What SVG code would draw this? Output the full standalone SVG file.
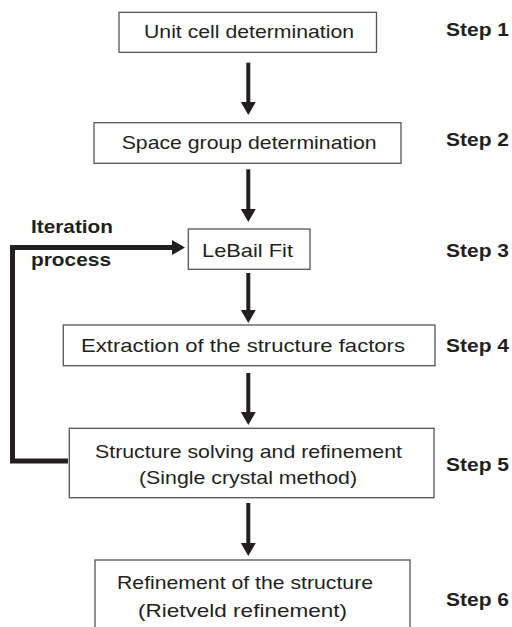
<svg xmlns="http://www.w3.org/2000/svg" width="512" height="627" viewBox="0 0 512 627">
<style>
.box{fill:#fff;stroke:#555;stroke-width:1.3}
.t{font-family:"Liberation Sans",Arial,sans-serif;font-size:19px;fill:#231f20}
.s{font-family:"Liberation Sans",Arial,sans-serif;font-size:18.5px;font-weight:bold;fill:#231f20}
.c{fill:none;stroke:#231f20;stroke-width:4}
.fb{fill:none;stroke:#231f20;stroke-width:5}
</style>
<defs>
<marker id="ah" markerUnits="userSpaceOnUse" markerWidth="14" markerHeight="16" refX="0" refY="7.5" orient="auto" overflow="visible">
<path d="M0,0 L13,7.5 L0,15 Z" fill="#231f20"/>
</marker>
</defs>
<rect width="512" height="627" fill="#fff"/>
<g id="connectors">
<line class="c" x1="248.3" y1="62.7" x2="248.3" y2="102" marker-end="url(#ah)"/>
<line class="c" x1="248.3" y1="169.3" x2="248.3" y2="209" marker-end="url(#ah)"/>
<line class="c" x1="248.3" y1="273" x2="248.3" y2="310" marker-end="url(#ah)"/>
<line class="c" x1="248.3" y1="373" x2="248.3" y2="412" marker-end="url(#ah)"/>
<line class="c" x1="248.3" y1="503" x2="248.3" y2="543" marker-end="url(#ah)"/>
<polyline class="fb" points="68,461 12.5,461 12.5,247.5 172,247.5" marker-end="url(#ah)"/>
</g>
<g id="step1">
<rect class="box" x="119" y="12.3" width="257.5" height="40"/>
<text class="t" x="144" y="37.5" textLength="210" lengthAdjust="spacingAndGlyphs">Unit cell determination</text>
</g>
<g id="step2">
<rect class="box" x="94" y="122.7" width="307" height="40.6"/>
<text class="t" x="121.7" y="149" textLength="255" lengthAdjust="spacingAndGlyphs">Space group determination</text>
</g>
<g id="step3">
<rect class="box" x="188.3" y="229" width="121.7" height="40.3"/>
<text class="t" x="202" y="256.5" textLength="91" lengthAdjust="spacingAndGlyphs">LeBail Fit</text>
</g>
<g id="step4">
<rect class="box" x="63.3" y="325" width="371.7" height="40.7"/>
<text class="t" x="81" y="351.5" textLength="324" lengthAdjust="spacingAndGlyphs">Extraction of the structure factors</text>
</g>
<g id="step5">
<rect class="box" x="69.3" y="428.3" width="364.7" height="69.4"/>
<text class="t" x="95" y="457.5" textLength="307" lengthAdjust="spacingAndGlyphs">Structure solving and refinement</text>
<text class="t" x="139" y="483.5" textLength="218" lengthAdjust="spacingAndGlyphs">(Single crystal method)</text>
</g>
<g id="step6">
<rect class="box" x="95" y="560" width="315" height="80"/>
<text class="t" x="117" y="588.5" textLength="256" lengthAdjust="spacingAndGlyphs">Refinement of the structure</text>
<text class="t" x="138" y="616.5" textLength="209" lengthAdjust="spacingAndGlyphs">(Rietveld refinement)</text>
</g>
<g id="labels">
<text class="s" x="31" y="232.5" textLength="82" lengthAdjust="spacingAndGlyphs">Iteration</text>
<text class="s" x="31" y="266" textLength="80" lengthAdjust="spacingAndGlyphs">process</text>
<text class="s" x="446" y="35.5" textLength="63" lengthAdjust="spacingAndGlyphs">Step 1</text>
<text class="s" x="446" y="145.5" textLength="63" lengthAdjust="spacingAndGlyphs">Step 2</text>
<text class="s" x="446" y="257" textLength="63" lengthAdjust="spacingAndGlyphs">Step 3</text>
<text class="s" x="446" y="351.5" textLength="63" lengthAdjust="spacingAndGlyphs">Step 4</text>
<text class="s" x="446" y="470.5" textLength="63" lengthAdjust="spacingAndGlyphs">Step 5</text>
<text class="s" x="446" y="605.5" textLength="63" lengthAdjust="spacingAndGlyphs">Step 6</text>
</g>
</svg>
